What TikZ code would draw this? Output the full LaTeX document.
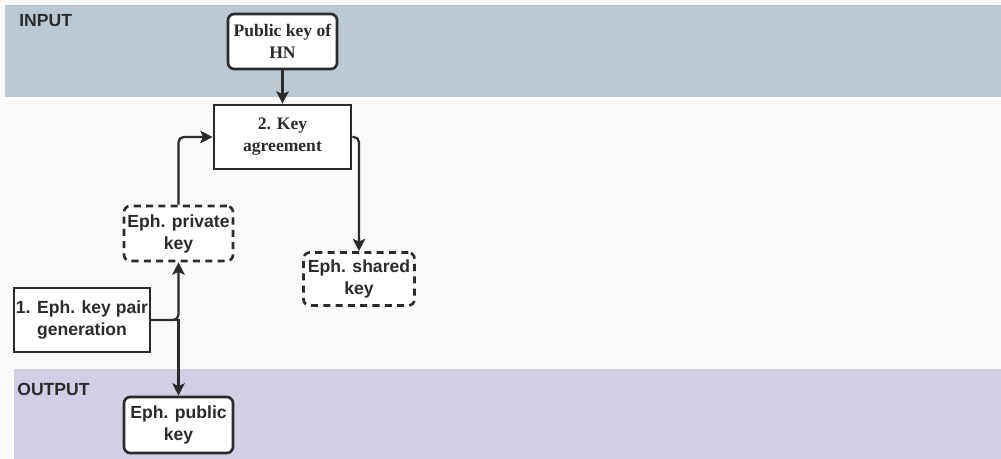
\documentclass[tikz,border=0pt]{standalone}
\usepackage{fontspec}
\setmainfont{Liberation Serif}
\setsansfont{Liberation Sans}
\usetikzlibrary{arrows.meta}
\definecolor{pagebg}{HTML}{F9F9F9}
\definecolor{inband}{HTML}{BAC9D4}
\definecolor{outband}{HTML}{D0CFE4}
\definecolor{ink}{HTML}{2B2B2B}
\tikzset{
  box/.style={draw=ink, fill=white, line width=1.5pt, align=center, text=ink,
    font=\bfseries\fontsize{10}{12.5}\selectfont, inner sep=1pt},
  serifbox/.style={box, font=\rmfamily\bfseries\fontsize{10}{12.5}\selectfont},
  sansbox/.style={box, font=\sffamily\bfseries\fontsize{10}{12.5}\selectfont},
  roundbox/.style={rounded corners=3.5pt},
  dashbox/.style={dash pattern=on 4pt off 3pt, rounded corners=3.5pt},
  lane/.style={anchor=base west, text=ink, font=\sffamily\bfseries\fontsize{10}{12}\selectfont, inner sep=0pt},
  arr/.style={draw=ink, line width=1.3pt, rounded corners=3pt,
    -{Stealth[length=7pt, width=7pt, inset=1.5pt]}},
}
\begin{document}
\begin{tikzpicture}[x=0.02cm, y=-0.02cm]
  \useasboundingbox (0,0) rectangle (1001,459);
  % backgrounds and lanes
  \fill[pagebg] (0,0) rectangle (1001,459);
  \fill[inband] (5,5) rectangle (1001,97);
  \fill[outband] (14,369) rectangle (1001,459);
  \node[lane] (inlbl) at (19,27) {INPUT};
  \node[lane] (outlbl) at (17,395) {OUTPUT};

  % nodes
  \node[serifbox, roundbox, minimum width=2.18cm, minimum height=1.1cm] (pk) at (282.5,41.5) {Public key of\\HN};
  \node[serifbox, minimum width=2.74cm, minimum height=1.28cm] (ka) at (282.5,137) {2. Key\\agreement};
  \node[sansbox, dashbox, minimum width=2.18cm, minimum height=1.1cm] (priv) at (178.5,233.5) {Eph. private\\key};
  \node[sansbox, dashbox, minimum width=2.22cm, minimum height=1.06cm] (sh) at (359,279) {Eph. shared\\key};
  \node[sansbox, minimum width=2.72cm, minimum height=1.28cm] (gen) at (82,320) {1. Eph. key pair\\generation};
  \node[sansbox, roundbox, minimum width=2.18cm, minimum height=1.12cm] (pub) at (178.5,425) {Eph. public\\key};

  % connectors
  \draw[arr] (pk) -- (ka);
  \draw[arr] (priv.north) |- (ka.west);
  \draw[arr] (ka.east) -| (sh.north);
  \draw[arr] (gen.east) -| (priv.south);
  \draw[arr, sharp corners] (gen.east) -| (pub.north);
\end{tikzpicture}
\end{document}
